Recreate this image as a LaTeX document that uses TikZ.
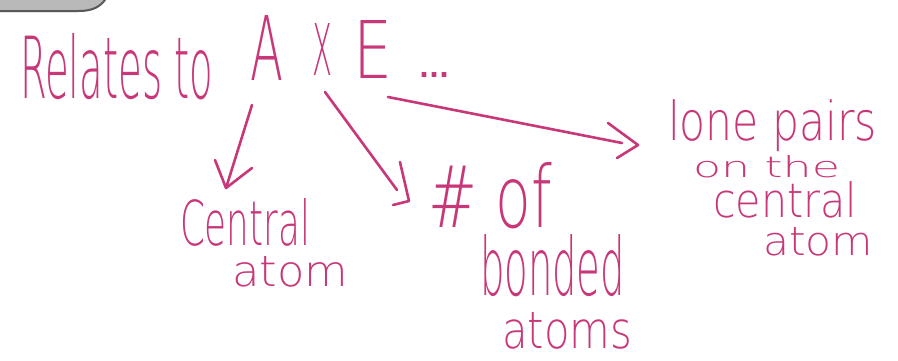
\documentclass[tikz,border=0pt]{standalone}
\usepackage{fontspec}
\setmainfont{DejaVu Sans ExtraLight}
\newfontfamily\dotsfont{DejaVu Sans}
\usepackage{graphicx}
\definecolor{ink}{RGB}{200,55,120}
\tikzset{
  pen/.style={draw=ink, line width=2.6pt, line cap=round, line join=round},
  hw/.style={anchor=north west, inner sep=0pt, outer sep=0pt, text=ink},
}
\newcommand{\hwt}[3]{\resizebox{#1pt}{#2pt}{#3}}
\newcommand{\hwd}[3]{\resizebox*{#1pt}{#2pt}{#3}}
\begin{document}
\begin{tikzpicture}[x=1pt,y=-1pt]
\fill[white] (0,0) rectangle (898,360);
\useasboundingbox (0,0) rectangle (898,360);
% grey remnant of a box at the top left
\fill[gray!55] (0,0) -- (0,12) -- (78,12) .. controls (95,12) and (100,7) .. (106,0) -- cycle;
\draw[gray!70!black, line width=2pt] (0,11) -- (78,11) .. controls (94,11) and (100,6) .. (105,0);
% title line
\node[hw] (rel) at (20,33) {\hwt{193}{65}{Relates to}};
\node[hw] (A) at (250,15) {\hwt{33}{65}{A}};
\node[hw] (X) at (312,23) {\hwt{20}{52}{X}};
\node[hw] (E) at (353,20) {\hwt{39}{58}{E}};
\node[hw] (dots) at (419,73) {\resizebox{30pt}{!}{\dotsfont\bfseries ...}};
% central atom
\node[hw] (c1) at (180,198) {\hwt{130}{47}{Central}};
\node[hw] (c2) at (232,256) {\hwt{116}{30}{atom}};
% # of bonded atoms
\node[hw] (b1) at (428,162) {\hwt{124}{65}{\# of}};
\node[hw] (b2) at (480,234) {\hwt{145}{61}{bonded}};
\node[hw] (b3) at (502,312) {\hwt{130}{36}{atoms}};
% lone pairs on the central atom
\node[hw] (l1) at (668,100) {\hwd{209}{52}{lone pairs}};
\node[hw] (l2) at (693,155) {\hwt{147}{22}{on the}};
\node[hw] (l3) at (713,181) {\hwt{144}{36}{central}};
\node[hw] (l4) at (763,227) {\hwt{110}{28}{atom}};
% arrow ends
\coordinate (a1s) at (252,105);
\coordinate (a1t) at (226,188);
\coordinate (a1l) at (215,160);
\coordinate (a1r) at (252,168);
\coordinate (a2s) at (325,92);
\coordinate (a2e) at (397,190);
\coordinate (a2u) at (400,162);
\coordinate (a2t) at (409,201);
\coordinate (a2l) at (393,205);
\coordinate (a3s) at (388,97);
\coordinate (a3e) at (622,143);
\coordinate (a3u) at (608,123);
\coordinate (a3t) at (638,145);
\coordinate (a3l) at (617,158);
% arrows
\draw[pen] (a1s) -- (a1t);
\draw[pen] (a1l) -- (a1t) -- (a1r);
\draw[pen] (a2s) -- (a2e);
\draw[pen] (a2u) -- (a2t) -- (a2l);
\draw[pen] (a3s) -- (a3e);
\draw[pen] (a3u) -- (a3t) -- (a3l);
\end{tikzpicture}
\end{document}
